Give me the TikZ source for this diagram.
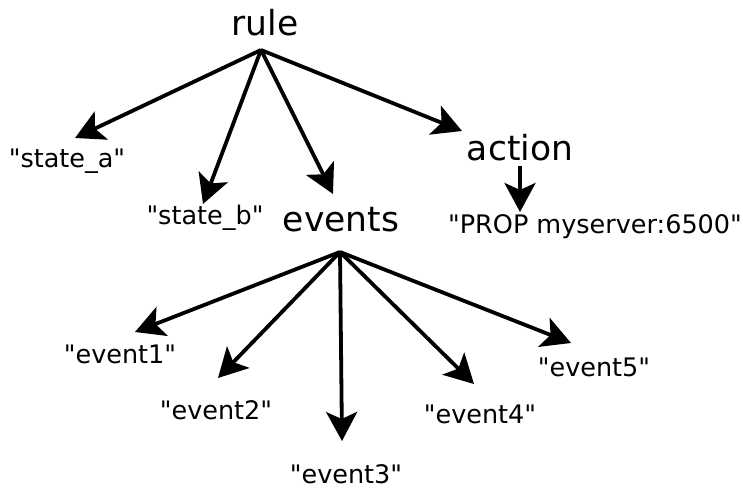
\documentclass[tikz,border=0pt]{standalone}
\usepackage{fontspec}
\setmainfont{DejaVu Sans}[Ligatures=TeXOff]
\usetikzlibrary{arrows.meta}
\begin{document}
\begin{tikzpicture}[x=1pt,y=-1pt,
  big/.style={font=\fontsize{34.5}{40}\selectfont, inner sep=0pt},
  small/.style={font=\fontsize{25.5}{30}\selectfont, inner sep=0pt},
  edge/.style={line width=3.8pt, -{Stealth[length=29pt,width=31pt,inset=7pt]}}]
\path[use as bounding box] (0,0) rectangle (743,489);

% top level
\node[big] (rule) at (265,23) {rule};
\coordinate (rhub) at (261,50);
\node[small] (sa) at (67,161) {"state\_a"};
\node[small] (sb) at (205,218) {"state\_b"};
\node[big] (events) at (341,220) {events};
\node[big] (action) at (520,148) {action};
\node[small] (prop) at (595,227) {"PROP myserver:6500"};

\coordinate (tsa) at (75,138);
\coordinate (tsb) at (203,204);
\coordinate (tev) at (333,194);
\coordinate (tac) at (462,131);
\coordinate (acs) at (520,166);
\coordinate (tpr) at (520,212);

\draw[edge] (rhub) -- (tsa);
\draw[edge] (rhub) -- (tsb);
\draw[edge] (rhub) -- (tev);
\draw[edge] (rhub) -- (tac);
\draw[edge] (acs) -- (tpr);

% events
\coordinate (ehub) at (340,252);
\node[small] (e1) at (120,354) {"event1"};
\node[small] (e2) at (216,410) {"event2"};
\node[small] (e3) at (346,474) {"event3"};
\node[small] (e4) at (480,414) {"event4"};
\node[small] (e5) at (594,367) {"event5"};

\coordinate (t1) at (135,332);
\coordinate (t2) at (218,378);
\coordinate (t3) at (342,441);
\coordinate (t4) at (474,384);
\coordinate (t5) at (571,343);

\foreach \t in {t1,t2,t3,t4,t5} \draw[edge] (ehub) -- (\t);
\end{tikzpicture}
\end{document}
